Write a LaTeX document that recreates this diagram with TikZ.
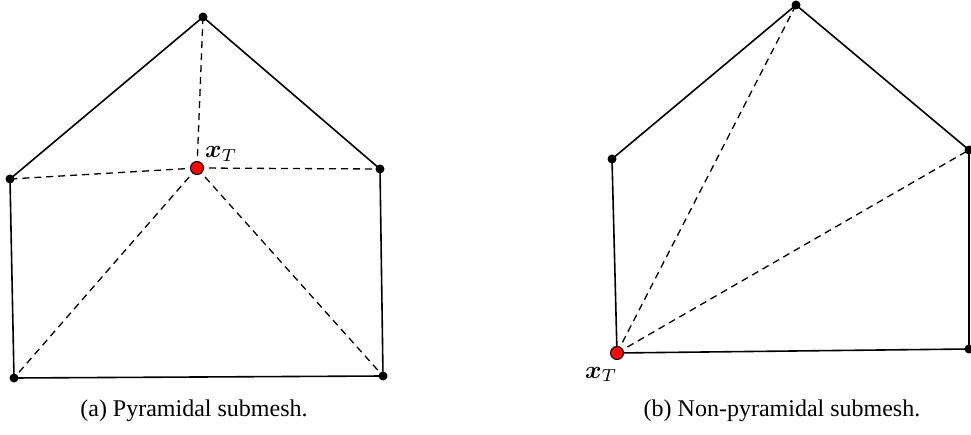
\documentclass[tikz,border=0pt]{standalone}
\usepackage{amsmath}
\usepackage{graphicx}
\usepackage{fontspec}
\setmainfont{Liberation Serif}
\newcommand{\xTlabel}{\scalebox{2.5}{$\boldsymbol{x}_T$}}
\begin{document}
\begin{tikzpicture}[x=1pt,y=-1pt,
  edge/.style={line width=1.6pt},
  diag/.style={line width=1.3pt,dash pattern=on 7pt off 5pt},
  vtx/.style={circle,fill=black,inner sep=0pt,minimum size=9pt},
  ctr/.style={circle,fill=red,draw=black,line width=1pt,inner sep=0pt,minimum size=13pt},
  captext/.style={font=\fontsize{24}{28}\selectfont},
  lab/.style={inner sep=0pt}]
\useasboundingbox (0,0) rectangle (971,435);
% panel (a)
\coordinate (A1) at (203,17);
\coordinate (A2) at (10,179);
\coordinate (A3) at (380,169);
\coordinate (A4) at (14,378);
\coordinate (A5) at (383,376);
\coordinate (AC) at (197,168);
\draw[edge] (A1) -- (A2) -- (A4) -- (A5) -- (A3) -- (A1);
\foreach \p in {A1,A2,A3,A4,A5} \draw[diag] (AC) -- (\p);
\foreach \p in {A1,A2,A3,A4,A5} \node[vtx] at (\p) {};
\node[ctr] (ac) at (AC) {};
\node[lab,anchor=base west] (alab) at (205,158) {\xTlabel};
% panel (b)
\coordinate (B1) at (796,5);
\coordinate (B2) at (612,159);
\coordinate (B3) at (969,150);
\coordinate (B4) at (617,353);
\coordinate (B5) at (969,349);
\draw[edge] (B1) -- (B2) -- (B4) -- (B5) -- (B3) -- (B1);
\draw[diag] (B4) -- (B1);
\draw[diag] (B4) -- (B3);
\foreach \p in {B1,B2,B3,B5} \node[vtx] at (\p) {};
\node[ctr] (bc) at (B4) {};
\node[lab,anchor=base west] (blab) at (585,378) {\xTlabel};
% captions
\node[captext,anchor=base] (capa) at (194,416) {(a) Pyramidal submesh.};
\node[captext,anchor=base] (capb) at (782,416) {(b) Non-pyramidal submesh.};
\end{tikzpicture}
\end{document}
